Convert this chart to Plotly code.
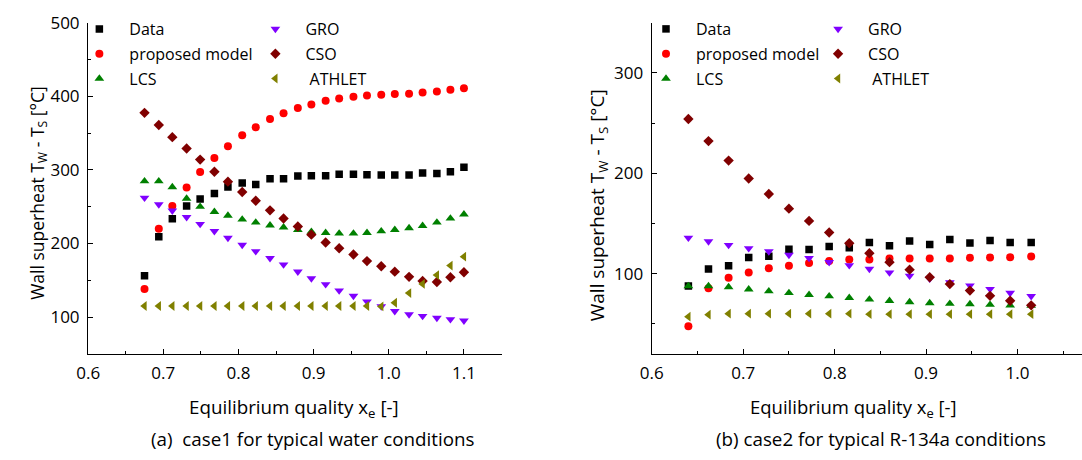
import plotly.graph_objects as go

# ---------------- data: case 1 (water) ----------------
x1 = [0.675, 0.694, 0.712, 0.731, 0.749, 0.768, 0.786, 0.805, 0.823, 0.842, 0.860, 0.879,
      0.897, 0.916, 0.934, 0.953, 0.971, 0.990, 1.008, 1.027, 1.045, 1.064, 1.082, 1.100]
data1 = [156, 209, 233.5, 251, 260.4, 268, 276.7, 282, 280, 288, 288, 291.6,
         292, 292, 294, 294, 293.4, 293, 293, 293, 295.6, 295, 297.4, 303.5]
prop1 = [138, 220, 251, 276, 297, 316, 332, 347, 358, 369, 377, 384,
         389, 394, 397, 399.5, 401, 402, 403, 403.5, 405, 406.6, 409, 411]
lcs1 = [284.6, 284.6, 276.7, 261, 250, 243, 238, 232.6, 228.6, 224.7, 222, 218.5,
        216, 214.5, 213.7, 213.7, 214.5, 216.7, 218.5, 221, 224, 228.6, 234, 239.6]
gro1 = [262, 253, 244.5, 235.7, 226.4, 216.7, 207.5, 198, 189.4, 180, 171.4, 161.7,
        152.4, 144.5, 136, 128.6, 121, 114.5, 108, 103.5, 101.3, 98.7, 97, 95]
cso1 = [377.5, 361, 344.5, 329, 314, 297.4, 284, 270, 258, 245, 234, 223,
        212, 201.3, 193.4, 185, 176, 169, 161.7, 154.6, 149, 147.6, 154, 160.8]
ath1 = [115, 115, 115, 115, 115, 115, 115, 115, 115, 115, 115, 115,
        115, 115, 115, 115, 115, 114.5, 119.4, 132.6, 145, 157, 170, 182]

# ---------------- data: case 2 (R-134a) ----------------
x2 = [0.640, 0.662, 0.684, 0.706, 0.728, 0.750, 0.772, 0.794, 0.816,
      0.838, 0.860, 0.882, 0.904, 0.926, 0.948, 0.970, 0.992, 1.015]
data2 = [87.6, 104.6, 107.8, 116, 117.3, 124.2, 124, 127, 125.8,
         131, 127.8, 132.4, 129, 134, 130.4, 133, 131, 131]
prop2 = [47.4, 85.3, 95.8, 101, 105.2, 107.8, 110.5, 112.4, 114,
         114, 115, 115, 115, 115, 115.7, 116, 116.3, 117]
lcs2 = [87.6, 87.6, 86.6, 84.3, 82.4, 80.7, 78.8, 77.5, 75.8,
        74.2, 72.9, 71.6, 70.6, 70, 69.6, 69, 68.3, 68]
gro2 = [135.6, 132, 128.4, 125.2, 122, 118.6, 115.4, 111.4, 108.2,
        104.6, 101, 97.7, 94.8, 91.2, 88, 84.6, 80.7, 77.5]
cso2 = [254, 232, 212.6, 194.8, 179.3, 164.7, 152.5, 141, 130.3,
        120.3, 111.4, 103.9, 96.4, 89.5, 83, 77.8, 72.9, 68.3]
ath2 = [57, 59, 60, 60, 60, 60, 60, 60, 60,
        59.5, 59.5, 59.5, 59.5, 59.5, 59.5, 59.5, 59.5, 59.5]

series_names = ["Data", "proposed model", "LCS", "GRO", "CSO", "\u00a0ATHLET"]
colors = ["#000000", "#ff0000", "#008000", "#8000ff", "#800000", "#808000"]
symbols = ["square", "circle", "triangle-up", "triangle-down", "diamond", "triangle-left"]
sizes = [7.5, 8, 8.5, 8.5, 8, 8.5]

FONT = "Open Sans, Liberation Sans, sans-serif"

fig = go.Figure()

sets = [
    (x1, [data1, prop1, lcs1, gro1, cso1, ath1], "x", "y", ["legend", "legend2"], "a"),
    (x2, [data2, prop2, lcs2, gro2, cso2, ath2], "x2", "y2", ["legend3", "legend4"], "b"),
]
for xs, ys_list, xa, ya, legs, tag in sets:
    for i, ys in enumerate(ys_list):
        fig.add_trace(go.Scatter(
            x=xs, y=ys, mode="markers", name=series_names[i],
            marker=dict(symbol=symbols[i], size=sizes[i], color=colors[i], line=dict(width=0)),
            xaxis=xa, yaxis=ya,
            legend=legs[0] if i < 3 else legs[1],
            legendgroup=tag + str(i),
            showlegend=True,
        ))

axis_common = dict(
    showline=True, linecolor="#000000", linewidth=1.3, mirror=False,
    ticks="inside", ticklen=5, tickwidth=1.2, tickcolor="#000000",
    showgrid=False, zeroline=False,
    tickfont=dict(family=FONT, size=17, color="#000000"),
    ticklabelstandoff=4, ticklabeloverflow="allow",
)

H = 460.0
W = 1082.0
ydom = [(H - 351) / H, (H - 11) / H]

fig.update_layout(
    width=1082, height=460,
    margin=dict(l=0, r=0, t=0, b=0),
    paper_bgcolor="white", plot_bgcolor="white",
    font=dict(family=FONT, color="#000000"),
    xaxis=dict(domain=[77 / W, 495 / W], range=[0.6, 1.15], tick0=0.6, dtick=0.1,
               tickformat=".1f", anchor="y",
               minor=dict(ticks="inside", ticklen=3, dtick=0.05, tick0=0.6, tickcolor="#000000"),
               **axis_common),
    yaxis=dict(domain=ydom, range=[50, 500], tick0=0, dtick=100, anchor="x",
               minor=dict(ticks="inside", ticklen=3, dtick=50, tick0=0, tickcolor="#000000"),
               **axis_common),
    xaxis2=dict(domain=[647 / W, 1.0], range=[0.6, 1.0706], tick0=0.6, dtick=0.1,
                tickformat=".1f", anchor="y2",
                minor=dict(ticks="inside", ticklen=3, dtick=0.05, tick0=0.6, tickcolor="#000000"),
                **axis_common),
    yaxis2=dict(domain=ydom, range=[20, 350], tick0=0, dtick=100, anchor="x2",
                minor=dict(ticks="inside", ticklen=3, dtick=50, tick0=0, tickcolor="#000000"),
                **axis_common),
)

leg_common = dict(yanchor="top", xanchor="left", y=1.0, orientation="v",
                  font=dict(family=FONT, size=16, color="#000000"),
                  itemwidth=50, tracegroupgap=1, bgcolor="rgba(0,0,0,0)", borderwidth=0)
fig.update_layout(
    legend=dict(x=58 / W, **leg_common),
    legend2=dict(x=236 / W, **leg_common),
    legend3=dict(x=631 / W, **leg_common),
    legend4=dict(x=805 / W, **leg_common),
)

ann = []
# y-axis titles
ann.append(dict(text="Wall superheat T<sub>W</sub> - T<sub>S</sub> [°C]", textangle=-90,
                x=26 / W, y=(H - 186) / H, xref="paper", yref="paper",
                xanchor="center", yanchor="middle", showarrow=False,
                font=dict(family=FONT, size=17.5, color="#000000")))
ann.append(dict(text="Wall superheat T<sub>W</sub> - T<sub>S</sub> [°C]", textangle=-90,
                x=592 / W, y=(H - 198) / H, xref="paper", yref="paper",
                xanchor="center", yanchor="middle", showarrow=False,
                font=dict(family=FONT, size=19, color="#000000")))
# x-axis titles
ann.append(dict(text="Equilibrium quality x<sub>e</sub> [-]",
                x=285 / W, y=(H - 407) / H, xref="paper", yref="paper",
                xanchor="center", yanchor="middle", showarrow=False,
                font=dict(family=FONT, size=18.8, color="#000000")))
ann.append(dict(text="Equilibrium quality x<sub>e</sub> [-]",
                x=851 / W, y=(H - 407) / H, xref="paper", yref="paper",
                xanchor="center", yanchor="middle", showarrow=False,
                font=dict(family=FONT, size=18.5, color="#000000")))
# captions
ann.append(dict(text="(a)  case1 for typical water conditions",
                x=304 / W, y=(H - 438) / H, xref="paper", yref="paper",
                xanchor="center", yanchor="middle", showarrow=False,
                font=dict(family=FONT, size=18.8, color="#000000")))
ann.append(dict(text="(b) case2 for typical R-134a conditions",
                x=879 / W, y=(H - 438) / H, xref="paper", yref="paper",
                xanchor="center", yanchor="middle", showarrow=False,
                font=dict(family=FONT, size=18.8, color="#000000")))
fig.update_layout(annotations=ann)

fig.write_html("out.html")
